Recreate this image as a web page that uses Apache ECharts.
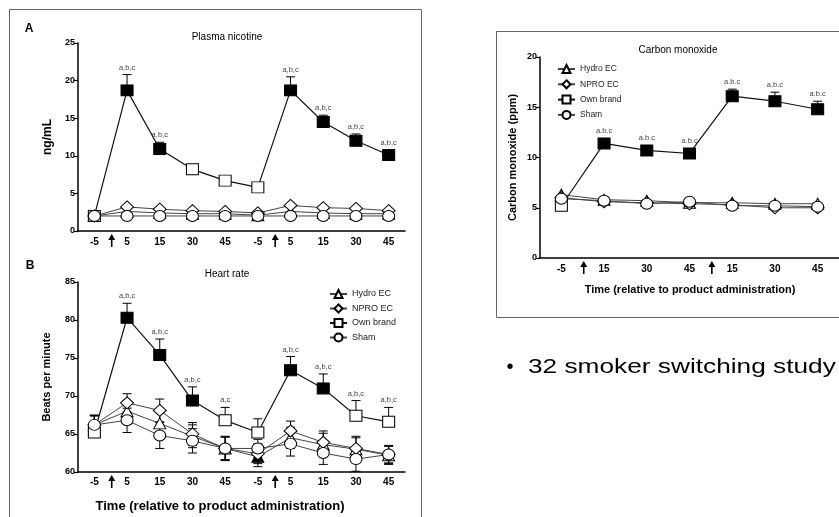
<!doctype html>
<html>
<head>
<meta charset="utf-8">
<title>Nicotine, heart rate, carbon monoxide</title>
<style>
  html, body { margin: 0; padding: 0; background: #fff; }
  #chart { width: 839px; height: 517px; }
</style>
</head>
<body>
<div id="chart"></div>
<script src="https://cdn.jsdelivr.net/npm/echarts@6/dist/echarts.min.js"></script>
<script>
// x categories (two sessions), arrows mark product administration
var times10 = ['-5', '5', '15', '30', '45', '-5', '5', '15', '30', '45'];
var times7 = ['-5', '15', '30', '45', '15', '30', '45'];
var arrowsAB = [0, 5];   // arrow sits right after these category indexes
var arrowsCO = [0, 3];
var names = ['Hydro EC', 'NPRO EC', 'Own brand', 'Sham'];

// A: plasma nicotine, ng/mL
var nicHydro = [2.0, 2.6, 2.4, 2.3, 2.3, 2.1, 2.6, 2.4, 2.3, 2.3];
var nicNpro = [2.0, 3.2, 2.9, 2.7, 2.6, 2.4, 3.4, 3.1, 3.0, 2.7];
var nicOwn = [2.0, 18.7, 10.9, 8.2, 6.7, 5.8, 18.7, 14.5, 12.0, 10.1];
var nicSham = [2.0, 2.0, 2.0, 2.0, 2.0, 2.0, 2.0, 2.0, 2.0, 2.0];
var nicOwnErr = [0, 2.1, 0.9, 0, 0, 0, 1.8, 0.9, 0.9, 0.7];
var nicOwnFilled = [0, 1, 1, 0, 0, 0, 1, 1, 1, 1];
var nicOwnSig = ['', 'a,b,c', 'a,b,c', '', '', '', 'a,b,c', 'a,b,c', 'a,b,c', 'a,b,c'];

// B: heart rate, beats per minute
var hrHydro = [66.2, 68.0, 66.4, 64.7, 63.1, 62.0, 64.5, 63.6, 63.0, 62.2];
var hrNpro = [66.2, 69.1, 68.1, 65.0, 63.1, 62.4, 65.4, 63.9, 63.1, 62.3];
var hrOwn = [65.2, 80.3, 75.4, 69.4, 66.8, 65.2, 73.4, 71.0, 67.4, 66.6];
var hrSham = [66.2, 66.8, 64.8, 64.1, 63.1, 63.1, 63.7, 62.5, 61.7, 62.3];
var hrHydroErr = [1.2, 1.3, 1.5, 1.5, 1.5, 1.3, 1.4, 1.5, 1.5, 1.2];
var hrNproErr = [1.2, 1.2, 1.5, 1.5, 1.5, 1.3, 1.3, 1.5, 1.6, 1.2];
var hrShamErr = [1.3, 1.6, 1.7, 1.6, 1.6, 1.2, 1.6, 1.5, 1.6, 1.1];
var hrOwnErr = [2.2, 1.9, 2.1, 1.8, 1.7, 1.8, 1.8, 1.9, 2.0, 1.9];
var hrHydroFilled = [0, 0, 0, 0, 0, 1, 0, 0, 0, 0];
var hrOwnFilled = [0, 1, 1, 1, 0, 0, 1, 1, 0, 0];
var hrOwnSig = ['', 'a,b,c', 'a,b,c', 'a,b,c', 'a,c', '', 'a,b,c', 'a,b,c', 'a,b,c', 'a,b,c'];

// C: carbon monoxide, ppm
var coHydro = [6.3, 5.8, 5.7, 5.5, 5.5, 5.4, 5.4];
var coNpro = [6.0, 5.6, 5.5, 5.4, 5.3, 5.0, 5.0];
var coOwn = [5.2, 11.4, 10.7, 10.4, 16.1, 15.6, 14.8];
var coSham = [5.9, 5.7, 5.4, 5.6, 5.2, 5.2, 5.1];
var coOwnErr = [0, 0.3, 0.3, 0.3, 0.7, 0.9, 0.8];
var coOwnFilled = [0, 1, 1, 1, 1, 1, 1];
var coOwnSig = ['', 'a.b.c', 'a.b.c', 'a.b.c', 'a.b.c', 'a.b.c', 'a.b.c'];

var symbols = { 'Hydro EC': 'triangle', 'NPRO EC': 'diamond', 'Own brand': 'rect', 'Sham': 'circle' };
var sizes = { 'Hydro EC': [12, 11], 'NPRO EC': [13, 12], 'Own brand': [12, 11], 'Sham': [12, 11] };

var lineSeries = function (name, gi, values, filled) {
    return {
        name: name, type: 'line', xAxisIndex: gi, yAxisIndex: gi,
        data: values.map(function (v, i) {
            return filled && filled[i] ? { value: v, itemStyle: { color: '#000' } } : v;
        }),
        symbol: symbols[name], symbolSize: sizes[name], showSymbol: true,
        lineStyle: { color: name === 'Own brand' ? '#111' : '#444', width: name === 'Own brand' ? 1.2 : 1 },
        itemStyle: { color: '#fff', borderColor: '#000', borderWidth: 1 },
        emphasis: { disabled: true }, silent: true, z: 3
    };
};

// error bars (whisker + cap) and significance letters
var errSeries = function (gi, values, up, down, sig, symSize) {
    return {
        type: 'custom', xAxisIndex: gi, yAxisIndex: gi, silent: true, z: 2,
        data: values.map(function (v, i) { return [i, v, up[i], down ? down[i] : 0]; }),
        renderItem: function (params, api) {
            var i = api.value(0), v = api.value(1), u = api.value(2), d = api.value(3);
            var c = api.coord([i, v]);
            var top = api.coord([i, v + u])[1];
            var bot = api.coord([i, v - d])[1];
            var st = { stroke: '#000', lineWidth: 1 };
            var kids = [];
            if (u > 0) {
                kids.push({ type: 'line', shape: { x1: c[0], y1: c[1], x2: c[0], y2: top }, style: st });
                kids.push({ type: 'line', shape: { x1: c[0] - 4.5, y1: top, x2: c[0] + 4.5, y2: top }, style: st });
            }
            if (d > 0) {
                kids.push({ type: 'line', shape: { x1: c[0], y1: c[1], x2: c[0], y2: bot }, style: st });
                kids.push({ type: 'line', shape: { x1: c[0] - 4.5, y1: bot, x2: c[0] + 4.5, y2: bot }, style: st });
            }
            var s = sig && sig[params.dataIndex];
            if (s) {
                var ty = Math.min(top, c[1] - symSize / 2) - 3;
                kids.push({ type: 'text', style: { text: s, x: c[0], y: ty, align: 'center', verticalAlign: 'bottom',
                    font: '7.5px Arial, sans-serif', fill: '#444' } });
            }
            return { type: 'group', children: kids };
        }
    };
};

// administration arrows under the axis, between two categories
var arrowSeries = function (gi, idxs) {
    return {
        type: 'custom', xAxisIndex: gi, yAxisIndex: gi, silent: true, clip: false, z: 5,
        data: idxs.map(function (i) { return [i, 0]; }),
        renderItem: function (params, api) {
            var band = api.size([1, 0])[0];
            var x = api.coord([api.value(0), 0])[0] + band / 2 + 1;
            var y0 = params.coordSys.y + params.coordSys.height + 3;
            return { type: 'group', children: [
                { type: 'polygon', shape: { points: [[x, y0], [x - 3.5, y0 + 6], [x + 3.5, y0 + 6]] }, style: { fill: '#000' } },
                { type: 'rect', shape: { x: x - 0.8, y: y0 + 5, width: 1.6, height: 8 }, style: { fill: '#000' } }
            ] };
        }
    };
};

var xAxis = function (gi, cats, margin) {
    return {
        type: 'category', gridIndex: gi, data: cats, boundaryGap: true,
        axisLine: { lineStyle: { color: '#000', width: 1.5 } },
        axisTick: { alignWithLabel: true, length: 4, lineStyle: { color: '#000', width: 1.2 } },
        axisLabel: { fontWeight: 'bold', fontSize: 10, color: '#000', margin: margin, fontFamily: 'Arial' },
        splitLine: { show: false }
    };
};
var yAxis = function (gi, min, max, name, gap, fs) {
    return {
        type: 'value', gridIndex: gi, min: min, max: max, interval: 5,
        axisLine: { show: true, lineStyle: { color: '#000', width: 1.5 } },
        axisTick: { show: true, length: 4, lineStyle: { color: '#000', width: 1.2 } },
        axisLabel: { fontWeight: 'bold', fontSize: 9, color: '#000', margin: 3, fontFamily: 'Arial' },
        splitLine: { show: false },
        name: name, nameLocation: 'middle', nameRotate: 90, nameGap: gap,
        nameTextStyle: { fontWeight: 'bold', fontSize: fs, color: '#000', fontFamily: 'Arial' }
    };
};
var legend = function (left, top, fs, gap) {
    return {
        orient: 'vertical', left: left, top: top, data: names, selectedMode: false,
        itemWidth: 17, itemHeight: 10, itemGap: gap,
        textStyle: { fontSize: fs, color: '#222', fontFamily: 'Arial' }
    };
};
var txt = function (s, x, y, font, align, sx) {
    return { type: 'text', x: x, y: y, scaleX: sx || 1, silent: true,
        style: { text: s, font: font, fill: '#000', align: align || 'center', verticalAlign: 'middle' } };
};

var series = [
    lineSeries('Hydro EC', 0, nicHydro), lineSeries('NPRO EC', 0, nicNpro),
    lineSeries('Own brand', 0, nicOwn, nicOwnFilled), lineSeries('Sham', 0, nicSham),
    errSeries(0, nicOwn, nicOwnErr, null, nicOwnSig, 11), arrowSeries(0, arrowsAB),

    lineSeries('Hydro EC', 1, hrHydro, hrHydroFilled), lineSeries('NPRO EC', 1, hrNpro),
    lineSeries('Own brand', 1, hrOwn, hrOwnFilled), lineSeries('Sham', 1, hrSham),
    errSeries(1, hrHydro, hrHydroErr, hrHydroErr, null, 11),
    errSeries(1, hrNpro, hrNproErr, hrNproErr, null, 11),
    errSeries(1, hrSham, hrShamErr, hrShamErr, null, 11),
    errSeries(1, hrOwn, hrOwnErr, null, hrOwnSig, 11), arrowSeries(1, arrowsAB),

    lineSeries('Hydro EC', 2, coHydro), lineSeries('NPRO EC', 2, coNpro),
    lineSeries('Own brand', 2, coOwn, coOwnFilled), lineSeries('Sham', 2, coSham),
    errSeries(2, coOwn, coOwnErr, null, coOwnSig, 11), arrowSeries(2, arrowsCO)
];

var myChart = echarts.init(document.getElementById('chart'));
var option = {
    animation: false,
    grid: [
        { left: 78, top: 43, width: 327, height: 188 },
        { left: 78, top: 282, width: 327, height: 190 },
        { left: 540, top: 57, width: 301, height: 201 }
    ],
    xAxis: [xAxis(0, times10, 6), xAxis(1, times10, 5), xAxis(2, times7, 6)],
    yAxis: [
        yAxis(0, 0, 25, 'ng/mL', 24, 12),
        yAxis(1, 60, 85, 'Beats per minute', 26, 11),
        yAxis(2, 0, 20, 'Carbon monoxide (ppm)', 22, 11)
    ],
    legend: [legend(324, 284, 9, 4.5), legend(552, 59, 8.5, 5.3)],
    series: series,
    graphic: [
        { type: 'rect', silent: true, shape: { x: 9.5, y: 9.5, width: 412, height: 530 },
          style: { fill: 'none', stroke: '#666', lineWidth: 1 } },
        { type: 'rect', silent: true, shape: { x: 496.5, y: 31.5, width: 360, height: 286 },
          style: { fill: 'none', stroke: '#666', lineWidth: 1 } },
        txt('A', 29, 29, 'bold 12px Arial'),
        txt('B', 30, 266, 'bold 12px Arial'),
        txt('Plasma nicotine', 227, 37, '10px Arial'),
        txt('Heart rate', 227, 274, '10px Arial'),
        txt('Carbon monoxide', 678, 50, '10px Arial'),
        txt('Time (relative to product administration)', 220, 506, 'bold 13px Arial'),
        txt('Time (relative to product administration)', 690, 290, 'bold 11px Arial'),
        txt('\u2022', 510, 367, '20px Arial'),
        txt('32 smoker switching study', 528, 367, '21px Arial', 'left', 1.25)
    ]
};
myChart.setOption(option);
</script>
</body>
</html>
